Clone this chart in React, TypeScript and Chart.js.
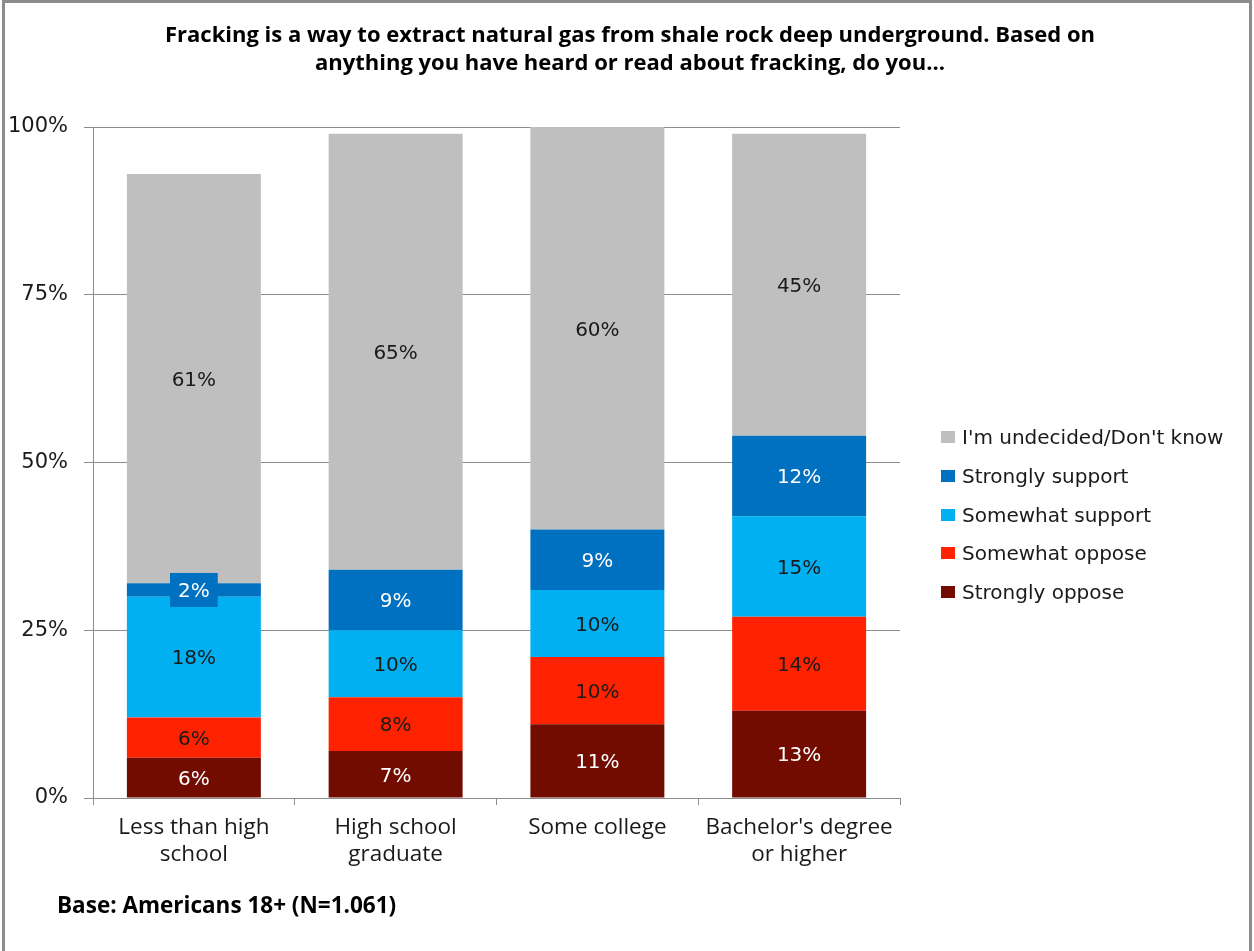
import React, { useEffect, useRef } from 'react';
import { Chart, registerables } from 'chart.js';

Chart.register(...registerables);

const TITLE_LINES = [
  'Fracking is a way to extract natural gas from shale rock deep underground. Based on',
  'anything you have heard or read about fracking, do you...',
];
const FOOTNOTE = 'Base: Americans 18+ (N=1.061)';

const categories = [
  ['Less than high', 'school'],
  ['High school', 'graduate'],
  ['Some college'],
  ["Bachelor's degree", 'or higher'],
];

const seriesNames = [
  'Strongly oppose',
  'Somewhat oppose',
  'Somewhat support',
  'Strongly support',
  "I'm undecided/Don't know",
];
const stronglyOppose = [6, 7, 11, 13];
const somewhatOppose = [6, 8, 10, 14];
const somewhatSupport = [18, 10, 10, 15];
const stronglySupport = [2, 9, 9, 12];
const undecided = [61, 65, 60, 45];
const seriesValues = [stronglyOppose, somewhatOppose, somewhatSupport, stronglySupport, undecided];

const seriesColors = ['#720c00', '#ff2200', '#00b0f0', '#0070c0', '#bfbfbf'];
const labelColors = ['#ffffff', '#1a1a1a', '#1a1a1a', '#ffffff', '#1a1a1a'];

const yMin = 0;
const yMax = 100;
const yStep = 25;

const GRID = '#8c8c8c';

const segmentLabels = {
  id: 'segmentLabels',
  afterDatasetsDraw(chart: any) {
    const ctx = chart.ctx;
    ctx.save();
    ctx.font = '20px "DejaVu Sans"';
    ctx.textAlign = 'center';
    ctx.textBaseline = 'alphabetic';
    chart.data.datasets.forEach((ds: any, di: number) => {
      const meta = chart.getDatasetMeta(di);
      meta.data.forEach((el: any, i: number) => {
        const v = ds.data[i];
        const { x, y, base } = el.getProps(['x', 'y', 'base'], true);
        const cy = (y + base) / 2;
        const text = v + '%';
        const h = Math.abs(base - y);
        if (h < 22) {
          const w = ctx.measureText(text).width + 16;
          ctx.fillStyle = ds.backgroundColor;
          ctx.fillRect(x - w / 2, cy - 17, w, 34);
        }
        ctx.fillStyle = labelColors[di];
        ctx.fillText(text, x, cy + 7.3);
      });
    });
    ctx.restore();
  },
};

export default function App() {
  const canvasRef = useRef<HTMLCanvasElement | null>(null);

  useEffect(() => {
    if (!canvasRef.current) return;
    const chart = new Chart(canvasRef.current, {
      type: 'bar',
      data: {
        labels: categories as any,
        datasets: seriesNames.map((name, i) => ({
          label: name,
          data: seriesValues[i],
          backgroundColor: seriesColors[i],
          borderWidth: 0,
          categoryPercentage: 1,
          barPercentage: 0.664,
        })),
      },
      options: {
        animation: false,
        responsive: false,
        maintainAspectRatio: false,
        layout: { padding: { left: 0, top: 127, right: 354, bottom: 73 } },
        plugins: {
          legend: { display: false },
          title: { display: false },
          tooltip: { enabled: false },
        },
        scales: {
          x: {
            stacked: true,
            grid: {
              display: true,
              drawOnChartArea: false,
              drawTicks: true,
              tickLength: 7,
              color: GRID,
              offset: true,
            },
            border: { display: true, color: GRID, width: 1 },
            ticks: {
              color: '#1a1a1a',
              font: { family: '"Open Sans"', size: 22.5, lineHeight: 27 / 22.5 },
              padding: 9,
              maxRotation: 0,
              autoSkip: false,
            },
            afterFit: (scale: any) => {
              scale.height = 80;
            },
          },
          y: {
            stacked: true,
            min: yMin,
            max: yMax,
            grid: { color: GRID, tickLength: 9, drawTicks: true },
            border: { display: true, color: GRID, width: 1 },
            ticks: {
              stepSize: yStep,
              color: '#1a1a1a',
              font: { family: '"DejaVu Sans"', size: 21 },
              padding: 16,
              callback: (v: any) => v + '%',
            },
            afterFit: (scale: any) => {
              scale.width = 93;
            },
          },
        },
      },
      plugins: [segmentLabels],
    });
    return () => chart.destroy();
  }, []);

  const legendOrder = [4, 3, 2, 1, 0];

  return (
    <div
      style={{
        position: 'fixed',
        left: 0,
        top: 0,
        width: 1254,
        height: 951,
        background: '#ffffff',
        overflow: 'hidden',
      }}
    >
      <canvas ref={canvasRef} width={1254} height={951} style={{ display: 'block', position: 'absolute', left: 0, top: 0 }} />
      <div
        style={{
          position: 'absolute',
          top: 18.5,
          left: 0,
          width: 1260,
          textAlign: 'center',
          fontFamily: '"Open Sans"',
          fontWeight: 700,
          fontSize: 22,
          lineHeight: '28px',
          color: '#000',
          whiteSpace: 'nowrap',
        }}
      >
        {TITLE_LINES.map((t, i) => (
          <div key={i}>{t}</div>
        ))}
      </div>
      {legendOrder.map((si, row) => (
        <div
          key={si}
          style={{
            position: 'absolute',
            left: 941,
            top: 425 + row * 38.75,
            height: 24,
            width: 300,
          }}
        >
          <div
            style={{
              position: 'absolute',
              left: 0,
              top: 6,
              width: 14,
              height: 12,
              background: seriesColors[si],
            }}
          />
          <div
            style={{
              position: 'absolute',
              left: 21,
              top: 0,
              fontFamily: '"DejaVu Sans"',
              fontSize: 20,
              lineHeight: '24px',
              color: '#1a1a1a',
              whiteSpace: 'nowrap',
            }}
          >
            {seriesNames[si]}
          </div>
        </div>
      ))}
      <div
        style={{
          position: 'absolute',
          left: 57,
          top: 891,
          fontFamily: '"Open Sans"',
          fontWeight: 700,
          fontSize: 22.5,
          lineHeight: '28px',
          color: '#000',
          whiteSpace: 'nowrap',
        }}
      >
        {FOOTNOTE}
      </div>
      <div
        style={{
          position: 'absolute',
          left: 2,
          top: 0,
          width: 1250,
          height: 951,
          boxSizing: 'border-box',
          borderTop: '3px solid #8c8c8c',
          borderLeft: '3px solid #8c8c8c',
          borderRight: '3px solid #8c8c8c',
          pointerEvents: 'none',
        }}
      />
    </div>
  );
}
